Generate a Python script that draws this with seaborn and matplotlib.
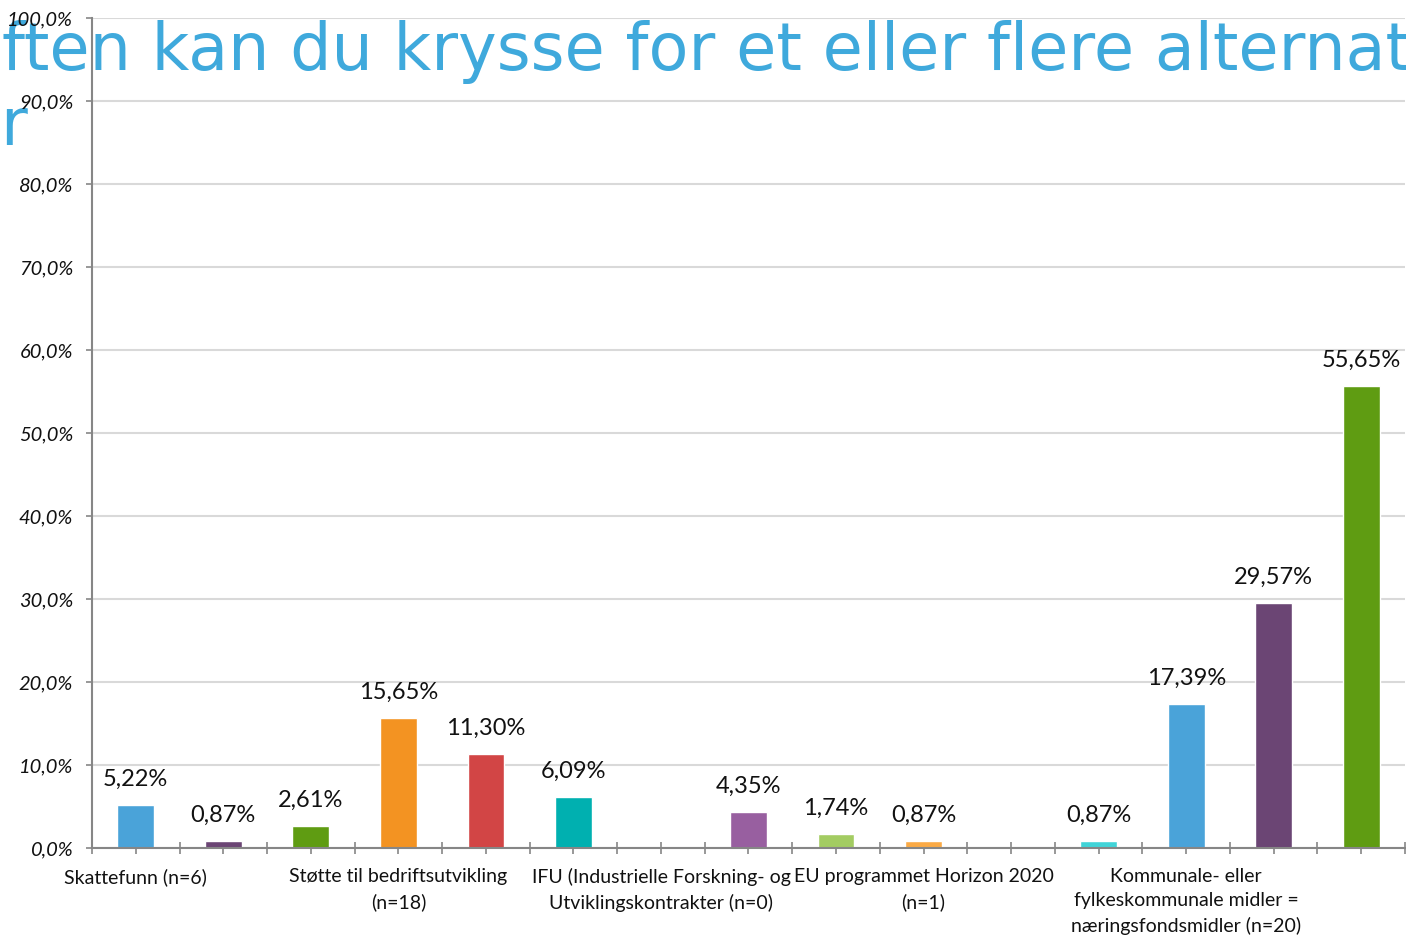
import matplotlib
matplotlib.use("Agg")
import matplotlib.pyplot as plt
import seaborn as sns
import pandas as pd
from matplotlib.ticker import FixedLocator, FuncFormatter

# Share of respondents per funding source (percent)
shares = [5.22, 0.87, 2.61, 15.65, 11.30, 6.09, 0.0, 4.35, 1.74, 0.87, 0.0, 0.87, 17.39, 29.57, 55.65]

# Category labels along the x axis (only every third one is printed)
tick_labels = [
    "Skattefunn (n=6)", "", "",
    "Støtte til bedriftsutvikling\n(n=18)", "", "",
    "IFU (Industrielle Forskning- og\nUtviklingskontrakter (n=0)", "", "",
    "EU programmet Horizon 2020\n(n=1)", "", "",
    "Kommunale- eller\nfylkeskommunale midler =\nnæringsfondsmidler (n=20)", "", "",
]

bar_colors = [
    "#4aa3d9", "#6b4574", "#5f9c12", "#f39322", "#d24545",
    "#00b0b0", "#7f7f7f", "#985fa0", "#a3cc62", "#fbaa45",
    "#7f7f7f", "#40d4d8", "#4aa3d9", "#6b4574", "#5f9c12",
]

y_ticks = list(range(0, 101, 10))

title_line = "ften kan du krysse for et eller flere alternative"
title_tail = "r"

sns.set_theme(style="white")
plt.rcParams["font.family"] = ["Lato", "DejaVu Sans"]

W, H = 1406, 940
fig = plt.figure(figsize=(W / 100, H / 100), dpi=100)
fig.patch.set_facecolor("white")

ax = fig.add_axes([92 / W, 1 - 848 / H, (1405 - 92) / W, (848 - 18) / H])
ax.set_facecolor("none")

df = pd.DataFrame({"slot": list(range(len(shares))), "share": shares})
sns.barplot(data=df, x="slot", y="share", hue="slot", palette=bar_colors,
            width=0.42, saturation=1, legend=False, ax=ax, zorder=3)

ax.set_xlim(-0.5, len(shares) - 0.5)
ax.set_ylim(0, 100)

# value labels above each bar
for i, v in enumerate(shares):
    if v > 0:
        ax.annotate(f"{v:.2f}%".replace(".", ","), (i, v), xytext=(0, 18.5),
                    textcoords="offset points", ha="center", va="center",
                    fontsize=17, color="#111111", zorder=5)

# axes styling
axis_gray = "#868686"
for side in ("top", "right"):
    ax.spines[side].set_visible(False)
for side in ("left", "bottom"):
    ax.spines[side].set_color(axis_gray)
    ax.spines[side].set_linewidth(1.5)
    ax.spines[side].set_zorder(4)

ax.yaxis.set_major_locator(FixedLocator(y_ticks))
ax.yaxis.set_major_formatter(FuncFormatter(lambda v, _: f"{v:.1f}%".replace(".", ",")))
ax.yaxis.grid(True, color="#d9d9d9", linewidth=1.5, zorder=0)
ax.set_axisbelow(True)
ax.tick_params(axis="y", which="major", left=True, direction="out", length=4.5,
               width=1.2, color=axis_gray, pad=9, labelsize=14.5, labelcolor="#111111")
for lbl in ax.get_yticklabels():
    lbl.set_fontstyle("italic")

ax.set_xticks(range(len(shares)))
ax.set_xticklabels(tick_labels, fontsize=14, color="#111111", linespacing=1.52)
ax.set_xticks([i - 0.5 for i in range(len(shares) + 1)], minor=True)
ax.tick_params(axis="x", which="both", bottom=True, direction="inout", length=9,
               width=1.2, color=axis_gray)
ax.tick_params(axis="x", which="major", pad=10)
ax.set_xlabel("")
ax.set_ylabel("")

# large heading text behind the plot
title_color = "#3fa9dc"
fig.text(2 / W, 1 - 70 / H, title_line, fontsize=47, color=title_color,
         family="DejaVu Sans", va="baseline", ha="left", zorder=-1)
fig.text(0 / W, 1 - 145 / H, title_tail, fontsize=47, color=title_color,
         family="DejaVu Sans", va="baseline", ha="left", zorder=-1)

fig.savefig("out.png", dpi=100)
